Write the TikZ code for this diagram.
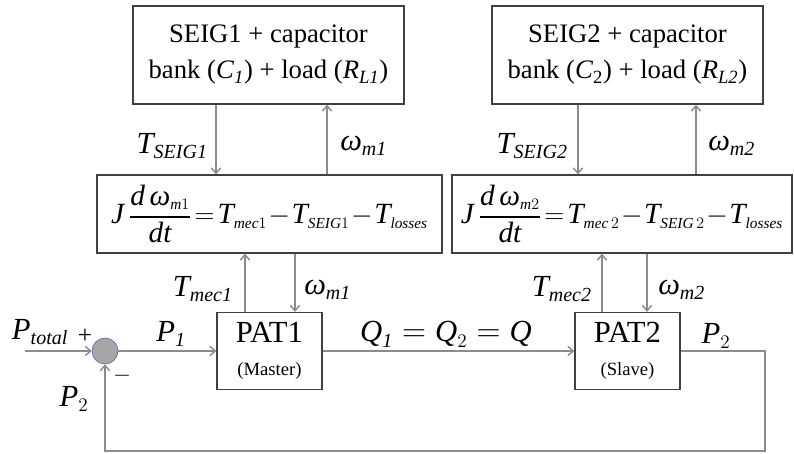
\documentclass[tikz,border=0pt]{standalone}
\usepackage{amsmath}
\usepackage{fontspec}
\setmainfont{Liberation Serif}
\usepackage{tikz}
\usetikzlibrary{arrows.meta}
\DeclareMathSizes{22}{22}{11.5}{9}
\DeclareMathSizes{23}{23}{15}{11}
\newcommand{\ivar}[1]{\textit{#1}}

\begin{document}
\begin{tikzpicture}[x=0.75pt, y=-0.75pt,
blocknode/.style={rectangle, draw=black!75, line width=1pt, align=center, inner sep=0pt},
seignode/.style={blocknode, minimum width=203.25pt, minimum height=73.5pt, font=\fontsize{20}{27}\selectfont},
patnode/.style={blocknode, minimum width=78.75pt, minimum height=57.75pt, font=\fontsize{23}{26}\selectfont},
eqnode/.style={blocknode, minimum height=58.5pt, font=\fontsize{22}{25}\selectfont},
sumnode/.style={circle, draw=blue!35!gray, fill=black!35, thin, minimum size=19.5pt, inner sep=0pt},
lbl/.style={inner sep=0pt, font=\fontsize{23}{27}\selectfont},
sgn/.style={inner sep=0pt, font=\fontsize{19}{22}\selectfont},
sig/.style={draw=black!45, line width=1.1pt, -{Straight Barb[length=4pt,width=7pt]}},
]
\useasboundingbox (0,0) rectangle (794,454);

%Nodes
\node[seignode]  (seig1) at (268.5,55)  {SEIG1 + capacitor\\bank (\ivar{C}\textsubscript{\ivar{1}}) + load (\ivar{R}\textsubscript{\ivar{L1}})};
\node[seignode]  (seig2) at (627.5,55)  {SEIG2 + capacitor\\bank (\ivar{C}\textsubscript{2}) + load (\ivar{R}\textsubscript{\ivar{L2}})};
\node[eqnode, minimum width=258.75pt] (eq1) at (269.5,214)
  {$\ivar{J}\,\dfrac{\ivar{d}\,\ivar{ω}_{\ivar{m}1}}{\ivar{dt}}\!=\!\ivar{T}_{\ivar{mec}1}\!-\!\ivar{T}_{\ivar{SEIG}1}\!-\!\ivar{T}_{\ivar{losses}}$};
\node[eqnode, minimum width=255pt] (eq2) at (622,214)
  {$\ivar{J}\,\dfrac{\ivar{d}\,\ivar{ω}_{\ivar{m}2}}{\ivar{dt}}\!=\!\ivar{T}_{\ivar{mec}\,2}\!-\!\ivar{T}_{\ivar{SEIG}\,2}\!-\!\ivar{T}_{\ivar{losses}}$};
\node[patnode]   (pat1) at (269.5,351)  {PAT1\\[-1pt]{\fontsize{14}{16}\selectfont (Master)}};
\node[patnode]   (pat2) at (627.5,351)  {PAT2\\[-1pt]{\fontsize{14}{16}\selectfont (Slave)}};
\node[sumnode]   (sum)  at (105,351)    {};

%Coordinates
\coordinate (in)   at (25,351);
\coordinate (fb)   at (765,451);
\coordinate (ts1)  at (216,0);
\coordinate (wu1)  at (327,0);
\coordinate (tm1)  at (245,0);
\coordinate (wd1)  at (295,0);
\coordinate (ts2)  at (578,0);
\coordinate (wu2)  at (696,0);
\coordinate (tm2)  at (602,0);
\coordinate (wd2)  at (647,0);

%Labels
\node[lbl, anchor=east] (lts1) at (208,146) {$\ivar{T}_{\ivar{SEIG1}}$};
\node[lbl, anchor=west] (lwu1) at (340,146) {$\ivar{ω}_{\ivar{m1}}$};
\node[lbl, anchor=east] (lts2) at (568,146) {$\ivar{T}_{\ivar{SEIG2}}$};
\node[lbl, anchor=west] (lwu2) at (708,146) {$\ivar{ω}_{\ivar{m2}}$};
\node[lbl, anchor=east] (ltm1) at (233,289) {$\ivar{T}_{\ivar{mec1}}$};
\node[lbl, anchor=west] (lwd1) at (304,290) {$\ivar{ω}_{\ivar{m1}}$};
\node[lbl, anchor=east] (ltm2) at (592,289) {$\ivar{T}_{\ivar{mec2}}$};
\node[lbl, anchor=west] (lwd2) at (658,290) {$\ivar{ω}_{\ivar{m2}}$};
\node[lbl] (lpt)  at (40,332)  {$\ivar{P}_{\ivar{total}}$};
\node[lbl] (lp1)  at (171,334) {$\ivar{P}_{\ivar{1}}$};
\node[lbl] (lp2a) at (74,399)  {$\ivar{P}_{2}$};
\node[lbl] (lq)   at (446,334) {$\ivar{Q}_{\ivar{1}} = \ivar{Q}_{2} = \ivar{Q}$};
\node[lbl] (lp2b) at (716,336) {$\ivar{P}_{2}$};
\node[sgn] (plus)  at (85,336)  {+};
\node[sgn] (minus) at (122,376) {$-$};

%Lines
\draw[sig] (seig1.south -| ts1) -- (eq1.north -| ts1);
\draw[sig] (eq1.north -| wu1) -- (seig1.south -| wu1);
\draw[sig] (seig2.south -| ts2) -- (eq2.north -| ts2);
\draw[sig] (eq2.north -| wu2) -- (seig2.south -| wu2);
\draw[sig] (pat1.north -| tm1) -- (eq1.south -| tm1);
\draw[sig] (eq1.south -| wd1) -- (pat1.north -| wd1);
\draw[sig] (pat2.north -| tm2) -- (eq2.south -| tm2);
\draw[sig] (eq2.south -| wd2) -- (pat2.north -| wd2);
\draw[sig] (in) -- (sum.west);
\draw[sig] (sum.east) -- (pat1.west);
\draw[sig] (pat1.east) -- (pat2.west);
\draw[sig] (pat2.east) -| (fb) -| (sum.south);

\end{tikzpicture}
\end{document}
